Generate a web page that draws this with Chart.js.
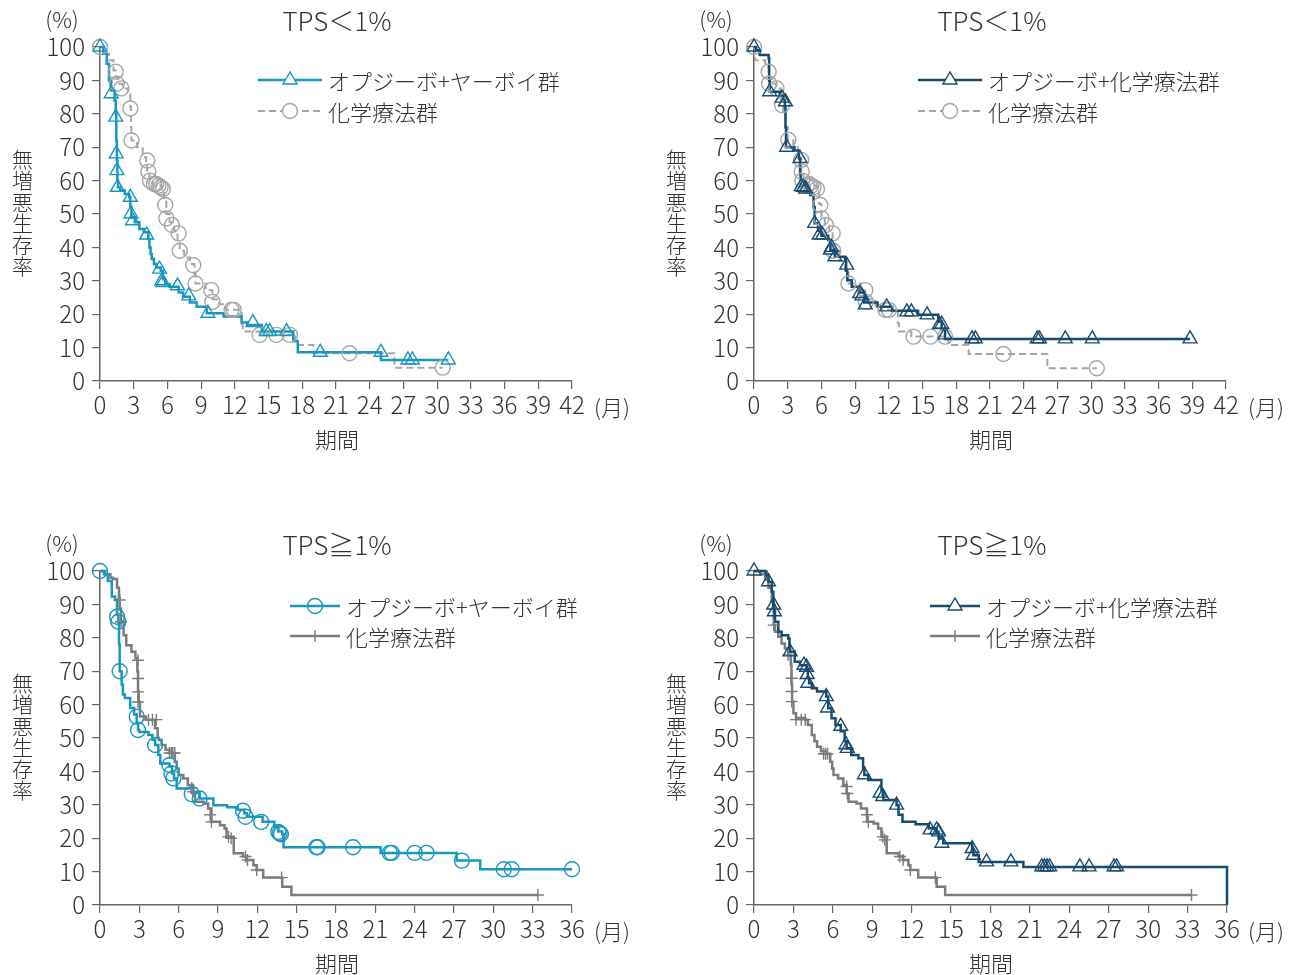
<!DOCTYPE html>
<html lang="ja">
<head>
<meta charset="utf-8">
<title>無増悪生存率</title>
<script src="https://cdn.jsdelivr.net/npm/chart.js@4.4.1/dist/chart.umd.min.js"></script>
<style>
  body { margin: 0; background: #fff; }
  #page { position: relative; width: 1292px; height: 975px; overflow: hidden;
          font-family: 'Noto Sans CJK JP', 'Noto Sans', sans-serif; font-weight: 300; color: #333; }
  #page canvas { position: absolute; }
  .lbl { position: absolute; white-space: nowrap; transform: translate(-50%, -50%); line-height: 1; }
  .title { font-size: 26px; }
  .unit { font-size: 22px; }
  .ylab { font-size: 21px; writing-mode: vertical-rl; text-orientation: upright; letter-spacing: 0.5px; }
  .leg { position: absolute; display: flex; align-items: center; font-size: 22px; white-space: nowrap; transform: translateY(-50%); }
  .leg svg { display: block; margin-right: 6px; }
</style>
</head>
<body>
<div id="page">
  <canvas id="km1"></canvas>
  <canvas id="km2"></canvas>
  <canvas id="km3"></canvas>
  <canvas id="km4"></canvas>

  <div class="lbl unit" style="left:62px;top:18px">(%)</div>
  <div class="lbl title" style="left:337px;top:20px">TPS＜1%</div>
  <div class="lbl ylab" style="left:22px;top:213px">無増悪生存率</div>
  <div class="lbl unit" style="left:612px;top:406px">(月)</div>
  <div class="lbl unit" style="left:337px;top:438px">期間</div>

  <div class="lbl unit" style="left:716px;top:18px">(%)</div>
  <div class="lbl title" style="left:992px;top:20px">TPS＜1%</div>
  <div class="lbl ylab" style="left:676px;top:213px">無増悪生存率</div>
  <div class="lbl unit" style="left:1266px;top:406px">(月)</div>
  <div class="lbl unit" style="left:991px;top:438px">期間</div>

  <div class="lbl unit" style="left:62px;top:542px">(%)</div>
  <div class="lbl title" style="left:337px;top:544px">TPS≧1%</div>
  <div class="lbl ylab" style="left:22px;top:737px">無増悪生存率</div>
  <div class="lbl unit" style="left:612px;top:930px">(月)</div>
  <div class="lbl unit" style="left:337px;top:962px">期間</div>

  <div class="lbl unit" style="left:716px;top:542px">(%)</div>
  <div class="lbl title" style="left:992px;top:544px">TPS≧1%</div>
  <div class="lbl ylab" style="left:676px;top:737px">無増悪生存率</div>
  <div class="lbl unit" style="left:1266px;top:930px">(月)</div>
  <div class="lbl unit" style="left:991px;top:962px">期間</div>
</div>

<script>
// axis ticks
const monthTicks42 = [0, 3, 6, 9, 12, 15, 18, 21, 24, 27, 30, 33, 36, 39, 42];
const monthTicks36 = [0, 3, 6, 9, 12, 15, 18, 21, 24, 27, 30, 33, 36];
const pctTicks = [0, 10, 20, 30, 40, 50, 60, 70, 80, 90, 100];

// TPS<1%  オプジーボ+ヤーボイ群 vs 化学療法群
const p1IpiT = [0, 0.3, 0.6, 0.8, 1.0, 1.3, 1.4, 1.45, 1.5, 1.55, 1.6, 1.8, 2.2, 2.6, 2.7, 2.8, 3.1, 3.5, 3.9, 4.3, 4.4, 4.5, 4.6, 4.8, 5.0, 5.4, 5.6, 5.8, 6.2, 7.0, 7.4, 8.0, 8.6, 9.5, 11.0, 12.6, 13.1, 14.4, 17.2, 17.6, 25.0, 31.0];
const p1IpiS = [100, 98, 95, 90, 87, 84, 80, 72, 66, 60, 58, 57, 56, 55, 52, 49, 47.5, 45.5, 44.5, 42.5, 40, 38, 36.5, 35, 34, 33, 30.5, 29, 28.2, 26.5, 25.2, 23.5, 22.2, 20.3, 19.3, 17.5, 16.8, 14.8, 12, 8.6, 6.3, 6.3];
const p1IpiCensT = [0, 1.0, 1.4, 1.45, 1.5, 1.55, 2.7, 2.75, 2.9, 4.15, 5.3, 5.5, 5.6, 6.9, 7.9, 9.6, 13.6, 14.8, 15.1, 16.6, 19.6, 25.0, 27.4, 27.8, 31.0];
const p1IpiCensS = [100, 86, 79, 68, 63, 58, 55, 50, 48, 43.7, 33.5, 30, 29.5, 28.5, 25.5, 20.3, 17.5, 14.8, 14.8, 14.8, 8.6, 8.6, 6.3, 6.3, 6.3];

const p1ChemoT = [0, 0.3, 0.8, 1.2, 1.4, 1.6, 2.0, 2.5, 2.7, 2.75, 2.8, 3.3, 3.8, 4.1, 4.2, 4.4, 4.7, 5.5, 5.7, 5.9, 6.2, 6.6, 6.9, 7.1, 7.5, 8.0, 8.4, 8.5, 9.4, 10.0, 10.6, 11.2, 12.6, 12.7, 14.2, 17.4, 19.0, 26.2, 30.5];
const p1ChemoS = [100, 98, 96, 93, 91, 89, 87.6, 86, 82, 76, 72, 70, 67, 65, 62, 60, 58.5, 57, 54, 50, 47.5, 45, 42, 39, 37, 35, 32, 29.2, 27.2, 24.5, 23, 21.3, 17, 14.8, 13.8, 10.8, 8.3, 4, 4];
const p1ChemoCensT = [0, 1.4, 1.5, 1.9, 2.7, 2.8, 4.2, 4.3, 4.45, 4.8, 5.0, 5.2, 5.4, 5.6, 5.8, 5.9, 6.4, 7.0, 7.1, 8.3, 8.5, 9.9, 10.0, 11.7, 11.9, 14.2, 15.7, 16.9, 22.2, 30.5];
const p1ChemoCensS = [100, 92.6, 89, 87.6, 81.6, 72, 66, 62.7, 60, 59, 59, 58.5, 58, 57.5, 52.7, 48.7, 46.7, 44.2, 39, 34.7, 29.2, 27.2, 23.7, 21.3, 21.3, 13.8, 13.8, 13.8, 8.3, 4];

// TPS<1%  オプジーボ+化学療法群 vs 化学療法群
const p2NivoT = [0, 0.2, 0.5, 1.3, 1.35, 1.4, 2.3, 2.6, 2.75, 2.8, 2.85, 3.6, 4.0, 4.1, 4.15, 4.6, 5.0, 5.3, 5.4, 5.7, 6.0, 6.6, 6.8, 7.2, 8.1, 8.2, 8.3, 8.7, 9.3, 9.8, 11.0, 12.3, 14.6, 16.4, 16.7, 17.0, 38.8];
const p2NivoS = [100, 99, 97.6, 96.6, 90, 86.6, 85.5, 84.5, 82, 76, 70, 69, 66.6, 62, 58.5, 56.5, 55.7, 52, 47.2, 45, 43.5, 42.2, 39.2, 37.2, 36.7, 33, 30.2, 28.2, 26.5, 23.5, 22.2, 21, 19.8, 17.8, 15.5, 12.6, 12.6];
const p2NivoCensT = [0, 1.4, 2.5, 2.8, 2.9, 4.1, 4.2, 4.4, 4.6, 5.4, 5.8, 6.1, 6.8, 6.9, 7.2, 8.25, 9.4, 9.6, 9.9, 11.8, 13.6, 14.0, 15.4, 16.5, 16.7, 17.0, 19.4, 19.7, 25.2, 25.4, 27.7, 30.1, 38.8];
const p2NivoCensS = [100, 86.6, 84.7, 83.6, 70, 66.6, 58.2, 58, 57.5, 47.2, 43.7, 43.7, 39.2, 40, 37.2, 34.7, 26.2, 25.5, 22.8, 22.2, 20.7, 20.7, 19.8, 16.9, 17, 13.8, 12.6, 12.6, 12.6, 12.6, 12.6, 12.6, 12.6];

const p2ChemoT = [0, 0.1, 1.0, 1.3, 1.6, 2.0, 2.4, 2.6, 2.8, 3.0, 3.5, 3.9, 4.2, 4.4, 4.7, 5.6, 5.8, 6.0, 6.3, 6.7, 7.0, 7.1, 7.6, 8.1, 8.4, 9.5, 9.9, 10.8, 11.4, 12.8, 12.9, 14.0, 17.3, 19.1, 26.1, 30.5];
const p2ChemoS = [100, 96, 94, 91, 89, 87.6, 84, 80, 76, 72.2, 70, 67, 63, 60, 58.5, 57, 53, 49, 47, 44.2, 41, 39, 36, 33, 29.2, 27.2, 24.5, 22.5, 21.3, 17.2, 14.8, 13.3, 10.8, 8.1, 3.8, 3.8];
const p2ChemoCensT = [0, 1.3, 1.35, 2.0, 2.5, 3.05, 4.2, 4.25, 4.3, 4.7, 4.9, 5.1, 5.3, 5.6, 5.9, 6.0, 6.4, 7.0, 7.05, 8.4, 9.9, 9.95, 11.7, 12.0, 14.2, 15.7, 17.0, 22.2, 30.5];
const p2ChemoCensS = [100, 92.6, 89, 87.6, 82.6, 72.2, 66.2, 62.7, 60, 58.5, 59, 58.5, 58, 57.5, 52.7, 48.7, 46.7, 44.2, 39, 29.2, 27.2, 23.7, 21.3, 21.3, 13.3, 13.3, 13.3, 8.1, 3.8];

// TPS≧1%  オプジーボ+ヤーボイ群 vs 化学療法群
const p3IpiT = [0, 0.3, 0.6, 0.9, 1.15, 1.3, 1.4, 1.45, 1.5, 1.65, 1.75, 1.9, 2.3, 2.6, 2.8, 2.9, 3.0, 3.7, 4.0, 4.2, 4.45, 4.6, 5.3, 5.5, 5.65, 5.85, 7.0, 7.6, 8.65, 9.7, 10.5, 11.0, 11.2, 12.4, 13.3, 13.6, 13.9, 14.0, 21.4, 27.2, 29.0, 36.0];
const p3IpiS = [100, 99, 97, 92.4, 91.4, 87, 84.8, 78, 70, 66, 63, 62, 59, 57, 54.5, 52.4, 51.8, 50.9, 49.5, 47.9, 44.9, 42.4, 41.5, 39.4, 37.9, 34.9, 33.5, 31.9, 29.9, 29.3, 28.5, 27.5, 26.4, 24.9, 23.5, 22, 21.2, 17.3, 15.6, 13.3, 10.7, 10.7];
const p3IpiCensT = [0, 1.3, 1.4, 1.5, 2.8, 2.9, 4.2, 5.3, 5.45, 5.6, 7.0, 7.6, 10.9, 11.1, 12.3, 13.6, 13.7, 13.8, 16.5, 16.6, 19.3, 22.1, 22.25, 24.0, 24.9, 27.6, 30.8, 31.4, 36.0];
const p3IpiCensS = [100, 86.3, 84.8, 70, 56.4, 52.4, 47.9, 41.9, 39.4, 37.9, 33.2, 31.9, 28.2, 26.4, 24.9, 21.9, 21.5, 21.2, 17.3, 17.3, 17.3, 15.6, 15.6, 15.6, 15.6, 13.3, 10.7, 10.7, 10.7];

const p3ChemoT = [0, 0.4, 0.8, 1.0, 1.3, 1.45, 1.5, 1.6, 1.8, 2.0, 2.4, 2.7, 2.85, 2.9, 2.95, 3.05, 3.5, 4.2, 4.4, 4.5, 4.7, 5.0, 5.3, 5.7, 5.85, 6.0, 6.35, 6.7, 7.1, 7.25, 7.9, 8.25, 8.5, 9.15, 9.5, 9.65, 10.2, 10.9, 11.2, 11.7, 11.95, 12.45, 13.9, 14.6, 33.4];
const p3ChemoS = [100, 99, 98, 97.6, 95, 92, 88.8, 84.8, 80.8, 77.8, 75.8, 73.9, 70, 64, 60.8, 56.4, 55.5, 52.9, 50, 49.4, 47.9, 46.5, 45.5, 42.9, 40.9, 38.9, 37.9, 35.9, 33.9, 30.9, 30.4, 28.9, 24.9, 23.9, 22.9, 20.4, 15.5, 14.5, 13.5, 11.9, 10.5, 8.2, 5.5, 3, 3];
const p3ChemoCensT = [1.5, 1.6, 2.9, 2.9, 2.9, 2.9, 3.7, 4.0, 4.3, 5.3, 5.45, 5.55, 5.7, 7.0, 7.1, 8.4, 8.5, 9.8, 10.0, 11.1, 11.25, 11.95, 13.85, 33.4];
const p3ChemoCensS = [91.3, 84.8, 73.3, 67.8, 63.8, 60.8, 55.5, 55.5, 55.5, 45.5, 45.5, 45.5, 45.5, 35, 33.9, 27, 24.9, 20.4, 20, 14.5, 13.5, 10.5, 8.2, 3];

// TPS≧1%  オプジーボ+化学療法群 vs 化学療法群
const p4NivoT = [0, 0.85, 0.95, 1.1, 1.35, 1.47, 1.55, 1.6, 1.85, 2.1, 2.6, 2.7, 2.75, 3.1, 3.5, 4.0, 4.1, 4.2, 4.4, 4.8, 5.5, 5.65, 5.9, 6.2, 6.6, 6.9, 7.05, 7.4, 7.95, 8.3, 8.4, 8.7, 9.7, 9.8, 9.85, 10.85, 11.0, 11.3, 12.3, 13.3, 13.9, 14.05, 14.4, 16.6, 16.7, 17.1, 20.5, 36.0];
const p4NivoS = [100, 99.8, 98.8, 96.8, 93.8, 89.8, 87.8, 84.8, 81.8, 80.8, 79.8, 77, 75.8, 72.8, 71.8, 70.5, 68, 66.4, 64.9, 63.9, 62.4, 58.9, 55.9, 53.9, 52, 49, 46.9, 44.9, 43.9, 41, 38.9, 37.4, 34.5, 32.9, 31.4, 29.9, 27, 24.9, 24.2, 23, 21.9, 19.9, 18.5, 16.5, 14.9, 12.9, 11.4, 0];
const p4NivoCensT = [0, 1.1, 1.5, 1.55, 2.75, 3.8, 4.0, 4.05, 4.1, 5.5, 5.6, 6.6, 7.0, 7.1, 8.4, 9.6, 9.8, 10.85, 13.4, 13.9, 14.05, 14.3, 16.6, 16.7, 17.7, 19.55, 21.9, 22.1, 22.3, 22.5, 24.8, 25.5, 27.4, 27.6];
const p4NivoCensS = [100, 96.8, 89.8, 87.8, 75.8, 71.8, 71.2, 69, 66.4, 62.4, 59, 53.5, 48, 46.9, 39, 33.5, 32.5, 29.9, 22.5, 22.5, 21.9, 18.5, 16.9, 14.9, 12.9, 12.9, 11.4, 11.4, 11.4, 11.4, 11.4, 11.4, 11.4, 11.4];

const p4ChemoT = [0, 0.5, 0.85, 1.1, 1.35, 1.5, 1.6, 1.85, 2.1, 2.35, 2.6, 2.8, 2.85, 2.9, 3.0, 3.2, 3.9, 4.1, 4.4, 4.6, 4.8, 5.1, 5.5, 5.8, 5.95, 6.05, 6.4, 6.8, 7.05, 7.2, 7.8, 8.15, 8.6, 9.1, 9.45, 9.7, 10.1, 11.0, 11.35, 11.75, 11.9, 12.5, 13.9, 14.55, 33.3];
const p4ChemoS = [100, 99, 97.4, 95, 90.8, 83.8, 81.8, 80.3, 78.3, 76.8, 74.9, 72, 66, 61, 57.4, 56, 55.5, 53.9, 50.9, 49, 47.4, 46, 45.3, 42.9, 40.9, 38.9, 37.9, 35.9, 33.4, 30.9, 30.4, 28.9, 24.9, 24.4, 22.9, 20.4, 15.5, 14.5, 13.5, 11.9, 10.5, 8.2, 5.5, 3, 3];
const p4ChemoCensT = [1.5, 2.6, 2.87, 2.87, 2.87, 3.2, 3.6, 3.9, 5.3, 5.45, 5.6, 7.05, 7.1, 8.6, 8.7, 9.8, 9.95, 11.1, 11.35, 11.9, 13.8, 33.3];
const p4ChemoCensS = [83.8, 74.9, 67.9, 63.9, 60.9, 55.5, 55.5, 55.5, 45.3, 45.3, 45.3, 35.5, 33.4, 27, 24.9, 20.4, 19.5, 14.5, 13.5, 10.5, 8.2, 3];

const CYAN = '#1897c0';
const NAVY = '#184b70';
const LIGHT_GRAY = '#a6a6a6';
const DARK_GRAY = '#7c7c7c';
const AXIS = '#666';
const tickFont = { family: "'Noto Sans CJK JP', 'Open Sans', sans-serif", size: 24, weight: 300 };

function toPoints(ts, ss) {
    return ts.map((t, i) => ({ x: t, y: ss[i] }));
}

function kmChart(id, box, area, xTicks, arms) {
    const cv = document.getElementById(id);
    cv.width = box.w;
    cv.height = box.h;
    cv.style.left = box.x + 'px';
    cv.style.top = box.y + 'px';

    const marks = arms.map(a => ({
        data: toPoints(a.ct, a.cs),
        showLine: false,
        pointStyle: a.marker,
        pointRadius: a.r,
        pointHoverRadius: a.r,
        pointBorderColor: a.color,
        pointBackgroundColor: 'rgba(255,255,255,0)',
        pointBorderWidth: 1.4,
        clip: false
    }));
    const lines = arms.map(a => ({
        data: toPoints(a.t, a.s),
        stepped: 'before',
        borderColor: a.color,
        borderWidth: a.width,
        borderDash: a.dash || [],
        pointRadius: 0,
        fill: false,
        clip: false
    }));

    return new Chart(cv, {
        type: 'line',
        data: { datasets: marks.concat(lines) },
        options: {
            responsive: false,
            animation: false,
            events: [],
            layout: {
                padding: { left: 0, bottom: 0, top: area.top - box.y, right: box.x + box.w - area.right }
            },
            plugins: { legend: { display: false }, tooltip: { enabled: false } },
            scales: {
                x: {
                    type: 'linear',
                    min: xTicks[0],
                    max: xTicks[xTicks.length - 1],
                    afterBuildTicks: s => { s.ticks = xTicks.map(v => ({ value: v })); },
                    afterFit: s => { s.height = box.y + box.h - area.bottom; },
                    ticks: { autoSkip: false, maxRotation: 0, font: tickFont, color: '#333', padding: 1 },
                    grid: { drawOnChartArea: false, tickLength: 8, color: AXIS, lineWidth: 1.2 },
                    border: { color: AXIS, width: 1.5 }
                },
                y: {
                    min: 0,
                    max: 100,
                    afterBuildTicks: s => { s.ticks = pctTicks.map(v => ({ value: v })); },
                    afterFit: s => { s.width = area.left - box.x; },
                    ticks: { font: tickFont, color: '#333', padding: 7 },
                    grid: { drawOnChartArea: false, tickLength: 8, color: AXIS, lineWidth: 1.2 },
                    border: { color: AXIS, width: 1.5 }
                }
            }
        }
    });
}

// legend swatch: line with a marker in the middle
function legendRow(x, y, w, color, dash, marker, text) {
    const ns = 'http://www.w3.org/2000/svg';
    const row = document.createElement('div');
    row.className = 'leg';
    row.style.left = x + 'px';
    row.style.top = y + 'px';
    const svg = document.createElementNS(ns, 'svg');
    svg.setAttribute('width', w);
    svg.setAttribute('height', 20);
    const cx = w / 2, cy = 10;
    const ln = document.createElementNS(ns, 'line');
    ln.setAttribute('x1', 0); ln.setAttribute('x2', w);
    ln.setAttribute('y1', cy); ln.setAttribute('y2', cy);
    ln.setAttribute('stroke', color);
    ln.setAttribute('stroke-width', dash ? 2 : 2.5);
    if (dash) ln.setAttribute('stroke-dasharray', '7 4');
    svg.appendChild(ln);
    let m;
    if (marker === 'triangle') {
        m = document.createElementNS(ns, 'polygon');
        m.setAttribute('points', `${cx},${cy - 8} ${cx - 7},${cy + 4} ${cx + 7},${cy + 4}`);
        m.setAttribute('fill', '#fff');
    } else if (marker === 'circle') {
        m = document.createElementNS(ns, 'circle');
        m.setAttribute('cx', cx); m.setAttribute('cy', cy); m.setAttribute('r', 7.5);
        m.setAttribute('fill', dash ? '#fff' : 'none');
    } else {
        m = document.createElementNS(ns, 'path');
        m.setAttribute('d', `M${cx},${cy - 6}V${cy + 6}`);
    }
    m.setAttribute('stroke', color);
    m.setAttribute('stroke-width', 1.4);
    svg.appendChild(m);
    row.appendChild(svg);
    const span = document.createElement('span');
    span.textContent = text;
    row.appendChild(span);
    document.getElementById('page').appendChild(row);
}

kmChart('km1', { x: 0, y: 0, w: 646, h: 487 }, { left: 100, top: 47, right: 572, bottom: 381 }, monthTicks42, [
    { t: p1IpiT, s: p1IpiS, ct: p1IpiCensT, cs: p1IpiCensS, color: CYAN, width: 2.5, marker: 'triangle', r: 8 },
    { t: p1ChemoT, s: p1ChemoS, ct: p1ChemoCensT, cs: p1ChemoCensS, color: LIGHT_GRAY, width: 2, dash: [7, 4], marker: 'circle', r: 7.5 }
]);
kmChart('km2', { x: 646, y: 0, w: 646, h: 487 }, { left: 754, top: 47, right: 1226, bottom: 381 }, monthTicks42, [
    { t: p2NivoT, s: p2NivoS, ct: p2NivoCensT, cs: p2NivoCensS, color: NAVY, width: 2.5, marker: 'triangle', r: 8 },
    { t: p2ChemoT, s: p2ChemoS, ct: p2ChemoCensT, cs: p2ChemoCensS, color: LIGHT_GRAY, width: 2, dash: [7, 4], marker: 'circle', r: 7.5 }
]);
kmChart('km3', { x: 0, y: 487, w: 646, h: 488 }, { left: 100, top: 571, right: 572, bottom: 905 }, monthTicks36, [
    { t: p3IpiT, s: p3IpiS, ct: p3IpiCensT, cs: p3IpiCensS, color: CYAN, width: 2.5, marker: 'circle', r: 7.5 },
    { t: p3ChemoT, s: p3ChemoS, ct: p3ChemoCensT, cs: p3ChemoCensS, color: DARK_GRAY, width: 2.5, marker: 'cross', r: 6 }
]);
kmChart('km4', { x: 646, y: 487, w: 646, h: 488 }, { left: 754, top: 571, right: 1227, bottom: 905 }, monthTicks36, [
    { t: p4NivoT, s: p4NivoS, ct: p4NivoCensT, cs: p4NivoCensS, color: NAVY, width: 2.5, marker: 'triangle', r: 8 },
    { t: p4ChemoT, s: p4ChemoS, ct: p4ChemoCensT, cs: p4ChemoCensS, color: DARK_GRAY, width: 2.5, marker: 'cross', r: 6 }
]);

legendRow(258, 80, 64, CYAN, false, 'triangle', 'オプジーボ+ヤーボイ群');
legendRow(258, 111, 64, LIGHT_GRAY, true, 'circle', '化学療法群');
legendRow(918, 80, 64, NAVY, false, 'triangle', 'オプジーボ+化学療法群');
legendRow(918, 111, 64, LIGHT_GRAY, true, 'circle', '化学療法群');
legendRow(290, 606, 50, CYAN, false, 'circle', 'オプジーボ+ヤーボイ群');
legendRow(290, 636, 50, DARK_GRAY, false, 'cross', '化学療法群');
legendRow(930, 606, 50, NAVY, false, 'triangle', 'オプジーボ+化学療法群');
legendRow(930, 636, 50, DARK_GRAY, false, 'cross', '化学療法群');
</script>
</body>
</html>
